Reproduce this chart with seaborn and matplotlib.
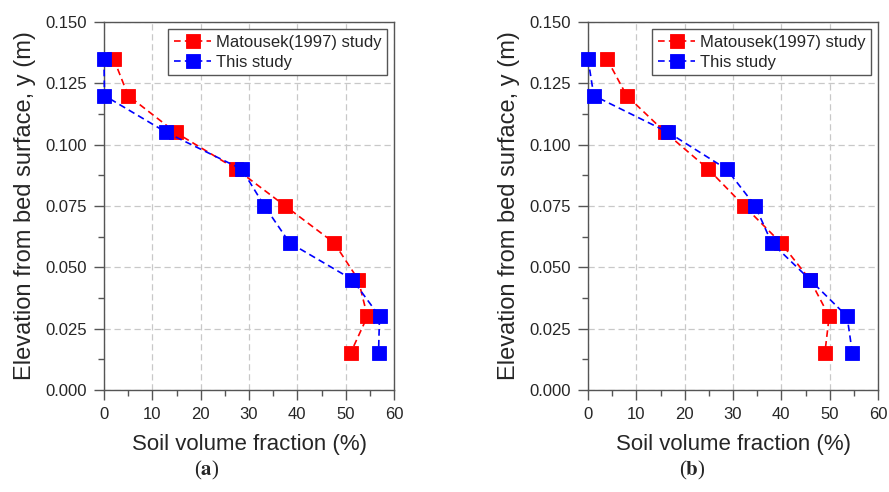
import pandas as pd
import numpy as np
import matplotlib.pyplot as plt
import seaborn as sns
from matplotlib.ticker import MultipleLocator

sns.set_style("white")
plt.rcParams['font.family'] = ['Liberation Sans', 'DejaVu Sans']
plt.rcParams['mathtext.fontset'] = 'stix'

# elevation levels (m)
elev = [0.135, 0.120, 0.105, 0.090, 0.075, 0.060, 0.045, 0.030, 0.015]

# panel (a)
mat_a = [2.0, 5.0, 14.8, 27.4, 37.5, 47.6, 52.6, 54.5, 51.0]
this_a = [0.0, 0.1, 12.9, 28.5, 33.2, 38.4, 51.4, 57.0, 56.8]

# panel (b)
mat_b = [3.9, 8.0, 16.0, 24.9, 32.3, 39.9, 45.9, 49.9, 49.0]
this_b = [0.0, 1.2, 16.6, 28.7, 34.6, 38.0, 45.9, 53.6, 54.7]

panels = [("a", mat_a, this_a), ("b", mat_b, this_b)]

fig = plt.figure(figsize=(8.89, 4.92), dpi=100)
lefts = [104 / 889, 588 / 889]
label_x = [207 / 889, 692 / 889]

for i, (tag, mat, this) in enumerate(panels):
    ax = fig.add_axes([lefts[i], 1 - 390 / 492, 290 / 889, 368 / 492])
    df = pd.DataFrame({
        "frac": mat + this,
        "y": elev + elev,
        "series": ["Matousek(1997) study"] * len(mat) + ["This study"] * len(this),
    })
    sns.lineplot(data=df, x="frac", y="y", hue="series", sort=False,
                 estimator=None, palette=["#ff0000", "#0000ff"],
                 marker="s", markersize=10.5, markeredgewidth=0.6,
                 linestyle="--", linewidth=1.2, ax=ax, zorder=3)
    for ln in ax.lines:
        ln.set_dashes([4, 2.5])
        ln.set_markeredgecolor(ln.get_color())
        ln.set_clip_on(False)
    ax.set_ylim(0, 0.15)
    ax.set_xlim(0, 60)
    ax.xaxis.set_major_locator(MultipleLocator(10))
    ax.xaxis.set_minor_locator(MultipleLocator(5))
    ax.yaxis.set_major_locator(MultipleLocator(0.025))
    ax.yaxis.set_minor_locator(MultipleLocator(0.0125))
    ax.yaxis.set_major_formatter(plt.FormatStrFormatter("%.3f"))
    ax.grid(True, which="major", linestyle=(0, (5, 3)), color="#c8c8c8", linewidth=0.9)
    ax.set_axisbelow(True)
    for s in ax.spines.values():
        s.set_color("#555555")
        s.set_linewidth(1.0)
    ax.tick_params(which="major", direction="out", length=7, width=1.0,
                   color="#555555", labelsize=12, pad=5, bottom=True, left=True)
    ax.tick_params(which="minor", direction="out", length=4, width=1.0,
                   color="#555555", bottom=True, left=True)
    ax.set_xlabel("Soil volume fraction (%)", fontsize=16, labelpad=9)
    ax.set_ylabel("Elevation from bed surface, y (m)", fontsize=17, labelpad=7)
    leg = ax.legend(loc="upper right", fontsize=12, frameon=True, fancybox=False,
                    edgecolor="#555555", framealpha=1, borderaxespad=0.4,
                    handlelength=2.2, handletextpad=0.3, borderpad=0.35,
                    labelspacing=0.3)
    leg.get_frame().set_linewidth(1.0)
    fig.text(label_x[i], 1 - 470 / 492, r"($\mathbf{%s}$)" % tag, ha="center",
             va="center", fontsize=15, family=["Liberation Serif", "DejaVu Serif"])

fig.savefig("out.png", dpi=100)
